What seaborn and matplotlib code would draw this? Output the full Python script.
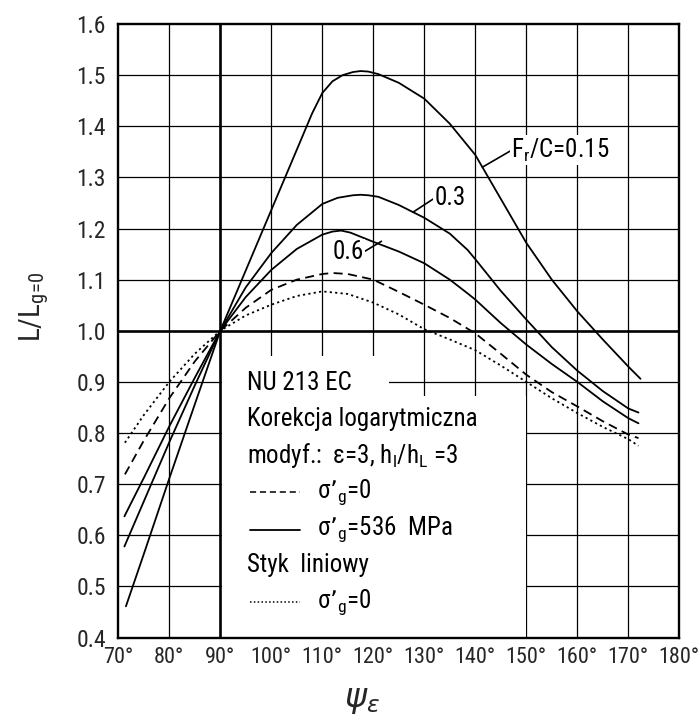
import numpy as np
import pandas as pd
import matplotlib
matplotlib.use("Agg")
import matplotlib.pyplot as plt
import seaborn as sns
from matplotlib import font_manager
from matplotlib.patches import Rectangle
from matplotlib.lines import Line2D

# --- data ---
psi_015 = [71.5, 75, 80, 85, 90, 95, 100, 105, 108, 110, 112, 114, 116, 117.5, 119, 121,
           125, 130, 135, 140, 145, 150, 155, 160, 165, 170, 172.4]
L_015 = [0.461, 0.563, 0.711, 0.856, 1.0, 1.118, 1.236, 1.354, 1.425, 1.465, 1.488, 1.500,
         1.506, 1.508, 1.507, 1.502, 1.485, 1.454, 1.405, 1.344, 1.258, 1.172, 1.100,
         1.038, 0.983, 0.930, 0.906]

psi_03 = [71.2, 75, 80, 85, 90, 95, 100, 105, 110, 113, 116, 117.5, 119, 121, 125, 130,
          135, 138.5, 140, 145, 150, 155, 160, 165, 170, 172]
L_03 = [0.578, 0.666, 0.782, 0.893, 1.0, 1.085, 1.152, 1.207, 1.248, 1.260, 1.265, 1.266,
        1.265, 1.262, 1.246, 1.221, 1.190, 1.158, 1.140, 1.078, 1.022, 0.968, 0.922,
        0.882, 0.848, 0.840]

psi_06 = [71.2, 75, 80, 85, 90, 95, 100, 105, 110, 112, 113.7, 115.5, 118, 120, 125, 130,
          135, 138.5, 140, 145, 150, 155, 160, 165, 170, 172]
L_06 = [0.637, 0.712, 0.813, 0.908, 1.0, 1.066, 1.119, 1.160, 1.188, 1.194, 1.196, 1.192,
        1.182, 1.174, 1.155, 1.132, 1.100, 1.073, 1.061, 1.015, 0.973, 0.935, 0.900,
        0.862, 0.829, 0.819]

psi_dash = [71.3, 75, 80, 85, 90, 95, 100, 105, 110, 112, 115, 120, 125, 130, 135, 140,
            145, 150, 155, 160, 165, 170, 172]
L_dash = [0.719, 0.785, 0.868, 0.940, 1.0, 1.045, 1.080, 1.100, 1.111, 1.113, 1.111, 1.100,
          1.076, 1.051, 1.025, 0.995, 0.955, 0.914, 0.880, 0.852, 0.823, 0.797, 0.790]

psi_dot = [71.3, 75, 80, 85, 90, 95, 100, 105, 110, 115, 120, 125, 130, 135, 140, 145,
           150, 155, 160, 165, 170, 172]
L_dot = [0.781, 0.835, 0.900, 0.955, 1.0, 1.030, 1.051, 1.068, 1.077, 1.072, 1.055, 1.032,
         1.003, 0.983, 0.962, 0.932, 0.900, 0.868, 0.839, 0.812, 0.788, 0.775]

x_ticks = list(range(70, 181, 10))
y_ticks = [round(0.4 + 0.1 * i, 1) for i in range(13)]

names = {f.name for f in font_manager.fontManager.ttflist}
narrow = next((n for n in ["Liberation Sans Narrow", "Roboto Condensed", "Open Sans Condensed"]
               if n in names), "Liberation Sans")

sns.set_style("white")
plt.rcParams["font.family"] = [narrow, "DejaVu Sans"]
plt.rcParams["mathtext.default"] = "regular"

fig = plt.figure(figsize=(6.99, 7.21), dpi=100)
ax = fig.add_axes([0.1692, 0.1158, 0.8026, 0.8509])
ax.set_xlim(70, 180)
ax.set_ylim(0.4, 1.6)

# grid drawn by hand so the legend area can cover it but not the ticks
for v in x_ticks[1:-1]:
    ax.axvline(v, color="black", lw=1.9 if v == 90 else 0.9, zorder=1)
for v in y_ticks[1:-1]:
    ax.axhline(v, color="black", lw=1.9 if v == 1.0 else 0.9, zorder=1)

# white legend area
ax.add_patch(Rectangle((90.25, 0.4), 149.85 - 90.25, 0.872 - 0.4, fc="white", ec="none", zorder=1.5))
ax.add_patch(Rectangle((90.25, 0.87), 123 - 90.25, 0.95 - 0.87, fc="white", ec="none", zorder=1.5))

curves = [
    (psi_015, L_015, "-"),
    (psi_03, L_03, "-"),
    (psi_06, L_06, "-"),
    (psi_dash, L_dash, (0, (5, 3))),
    (psi_dot, L_dot, (0, (1.2, 1.8))),
]
for xs, ys, ls in curves:
    df = pd.DataFrame({"psi": xs, "L": ys})
    sns.lineplot(data=df, x="psi", y="L", ax=ax, color="black", lw=1.3,
                 linestyle=ls, sort=False, estimator=None, zorder=3)

ax.set_xticks(x_ticks)
ax.set_xticklabels([f"{v}°" for v in x_ticks])
ax.set_yticks(y_ticks)
ax.set_yticklabels([f"{v:.1f}" for v in y_ticks])
ax.tick_params(direction="in", length=7, width=0.9, color="black")
ax.tick_params(axis="y", pad=9, labelsize=17)
ax.tick_params(axis="x", pad=7, labelsize=16)
for s in ax.spines.values():
    s.set_linewidth(1.7)
    s.set_color("black")
    s.set_visible(True)

ax.set_xlabel(r"$\mathit{\psi}_{\mathit{\varepsilon}}$", fontsize=24)
ax.xaxis.set_label_coords(0.435, -0.075)
ax.set_ylabel(r"L/L$_{g\!=\!0}$", fontsize=21)
ax.yaxis.set_label_coords(-0.12, 0.54)

# curve labels
txt = dict(fontsize=18, color="black", zorder=5, va="center")
ax.annotate(r"F$_{r}$/C=0.15", xy=(141.4, 1.32), xytext=(147.1, 1.353), ha="left",
            bbox=dict(fc="white", ec="none", pad=1),
            arrowprops=dict(arrowstyle="-", lw=1.2, color="black", shrinkA=0, shrinkB=0,
                            relpos=(0, 0.5)), **txt)
ax.annotate("0.3", xy=(127.8, 1.232), xytext=(132.1, 1.26), ha="left",
            bbox=dict(fc="white", ec="none", pad=1),
            arrowprops=dict(arrowstyle="-", lw=1.2, color="black", shrinkA=0, shrinkB=0,
                            relpos=(0, 0.5)), **txt)
ax.annotate("0.6", xy=(121.6, 1.175), xytext=(118.1, 1.154), ha="right",
            bbox=dict(fc="white", ec="none", pad=1),
            arrowprops=dict(arrowstyle="-", lw=1.2, color="black", shrinkA=0, shrinkB=0,
                            relpos=(1, 0.5)), **txt)

# legend block
rows_y = [0.897, 0.827, 0.756, 0.684, 0.611, 0.541, 0.470]
lx = 95.2
ax.text(lx, rows_y[0], "NU 213 EC", **txt)
ax.text(lx, rows_y[1], "Korekcja logarytmiczna", **txt)
ax.text(lx, rows_y[2], "modyf.:  ε=3, h$_{l}$/h$_{L}$ =3", **txt)
ax.add_line(Line2D([95.9, 105.7], [rows_y[3]] * 2, color="black", lw=1.1,
                   linestyle=(0, (4, 2.5)), zorder=4))
ax.text(108.9, rows_y[3], "σ’$_{g}$=0", **txt)
ax.add_line(Line2D([95.9, 105.7], [rows_y[4]] * 2, color="black", lw=1.3, zorder=4))
ax.text(108.9, rows_y[4], "σ’$_{g}$=536  MPa", **txt)
ax.text(lx, rows_y[5], "Styk  liniowy", **txt)
ax.add_line(Line2D([95.9, 105.7], [rows_y[6]] * 2, color="black", lw=1.1,
                   linestyle=(0, (1, 1.5)), zorder=4))
ax.text(108.9, rows_y[6], "σ’$_{g}$=0", **txt)

fig.savefig("out.png", dpi=100)
